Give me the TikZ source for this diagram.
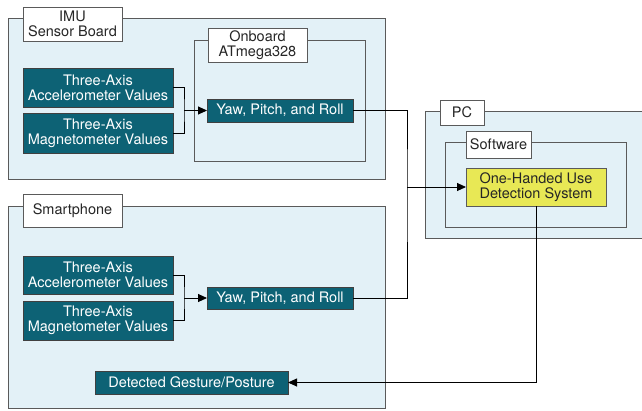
\documentclass[tikz,border=0pt]{standalone}
\usepackage{fontspec}
\setmainfont{TeX Gyre Heros}
\usetikzlibrary{arrows.meta}
\definecolor{teal1}{HTML}{0D6275}
\definecolor{lblue}{HTML}{E3F1F7}
\definecolor{yel}{HTML}{E8E855}
\definecolor{gborder}{HTML}{5A5A5A}
\tikzset{
  container/.style={draw=gborder, line width=1pt, fill=lblue, inner sep=0pt, outer sep=0pt},
  inner/.style={draw=gborder, line width=1pt, inner sep=0pt, outer sep=0pt},
  lbl/.style={draw=gborder, line width=0.8pt, fill=white, inner sep=0pt, outer sep=0pt, align=center,
    text=black!85, font=\fontsize{14.5}{14.5}\selectfont},
  tbox/.style={draw=black!75, line width=0.8pt, fill=teal1, text=white, inner sep=0pt, outer sep=0pt,
    align=center, font=\fontsize{14.5}{15}\selectfont},
  ybox/.style={draw=gborder, line width=0.8pt, fill=yel, text=black!85, inner sep=0pt, outer sep=0pt,
    align=center, font=\fontsize{14.5}{15}\selectfont},
  conn/.style={line width=0.9pt, black},
  arr/.style={conn, -{Triangle[length=9pt,width=8pt]}},
}
\begin{document}
\begin{tikzpicture}[x=1pt,y=-1pt]
\useasboundingbox (0,0) rectangle (642,410);
% containers
\node[container, minimum width=377pt, minimum height=161pt] (imu) at (196.5,98.5) {};
\node[inner, minimum width=171pt, minimum height=121pt] (onb) at (279.5,100.5) {};
\node[container, minimum width=377pt, minimum height=202pt] (phone) at (196.5,307) {};
\node[container, minimum width=222pt, minimum height=127pt] (pc) at (536,174.5) {};
\node[inner, minimum width=181pt, minimum height=85pt] (soft) at (535.5,184.5) {};
% labels
\node[lbl, minimum width=99pt, minimum height=34pt] (imul) at (72.5,24) {IMU\\Sensor Board};
\node[lbl, minimum width=99pt, minimum height=34pt] (onbl) at (257.5,45) {Onboard\\ATmega328};
\node[lbl, minimum width=99pt, minimum height=33pt] (phonel) at (72.5,210.5) {Smartphone};
\node[lbl, minimum width=44pt, minimum height=25pt] (pcl) at (462,112.5) {PC};
\node[lbl, minimum width=65pt, minimum height=27pt] (softl) at (498.5,144.5) {Software};
% IMU boxes
\node[tbox, minimum width=150pt, minimum height=39pt] (acc1) at (98,87.5) {Three-Axis\\Accelerometer Values};
\node[tbox, minimum width=150pt, minimum height=40pt] (mag1) at (98,133) {Three-Axis\\Magnetometer Values};
\node[tbox, minimum width=146pt, minimum height=23pt] (yaw1) at (280,110.5) {Yaw, Pitch, and Roll};
% phone boxes
\node[tbox, minimum width=150pt, minimum height=38pt] (acc2) at (98,275) {Three-Axis\\Accelerometer Values};
\node[tbox, minimum width=150pt, minimum height=39pt] (mag2) at (98,320.5) {Three-Axis\\Magnetometer Values};
\node[tbox, minimum width=146pt, minimum height=22pt] (yaw2) at (280,298) {Yaw, Pitch, and Roll};
\node[tbox, minimum width=193pt, minimum height=23pt] (det) at (191.5,382.5) {Detected Gesture/Posture};
% PC box
\node[ybox, minimum width=140pt, minimum height=38pt] (ohu) at (536,187) {One-Handed Use\\Detection System};
% connectors
\coordinate (b1) at (184,110.5);
\coordinate (b2) at (184,298);
\draw[conn] (acc1.east) -| (b1) |- (mag1.east);
\draw[arr] (b1) -- (yaw1.west);
\draw[conn] (acc2.east) -| (b2) |- (mag2.east);
\draw[arr] (b2) -- (yaw2.west);
\coordinate (j) at (407,187);
\draw[conn] (yaw1.east) -| (j) |- (yaw2.east);
\draw[arr] (j) -- (ohu.west);
\draw[arr] (ohu.south) |- (det.east);
\end{tikzpicture}
\end{document}
